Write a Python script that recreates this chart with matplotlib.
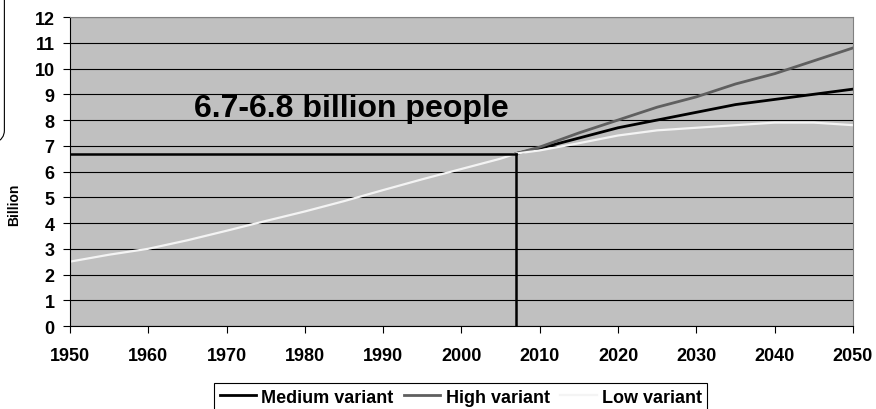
import matplotlib.pyplot as plt
from matplotlib.patches import FancyBboxPatch

plt.rcParams['font.family'] = ['Liberation Sans', 'DejaVu Sans']
plt.rcParams['font.weight'] = 'bold'

# world population, billions
hist_years = [1950, 1955, 1960, 1965, 1970, 1975, 1980, 1985, 1990, 1995, 2000, 2005, 2007]
hist_pop = [2.5, 2.77, 3.0, 3.33, 3.7, 4.08, 4.45, 4.85, 5.28, 5.7, 6.1, 6.5, 6.7]

proj_years = [2007, 2010, 2015, 2020, 2025, 2030, 2035, 2040, 2045, 2050]
medium = [6.7, 6.9, 7.3, 7.7, 8.0, 8.3, 8.6, 8.8, 9.0, 9.2]
high = [6.7, 6.95, 7.5, 8.0, 8.5, 8.9, 9.4, 9.8, 10.3, 10.8]
low = [6.7, 6.82, 7.1, 7.4, 7.6, 7.7, 7.8, 7.9, 7.9, 7.8]

mark_year = 2007
mark_pop = 6.7

fig = plt.figure(figsize=(8.76, 4.10), dpi=100)
ax = fig.add_axes([0.0799, 0.2024, 0.8938, 0.7536])
ax.set_facecolor('#c0c0c0')

ax.plot(proj_years, medium, color='black', lw=2.0, label='Medium variant')
ax.plot(proj_years, high, color='#5f5f5f', lw=2.0, label='High variant')
ax.plot(hist_years + proj_years[1:], hist_pop + low[1:], color='#f4f4f4', lw=1.6,
        label='Low variant')

# marker lines
ax.plot([1950, mark_year], [mark_pop, mark_pop], color='black', lw=1.8, zorder=3)
ax.plot([mark_year, mark_year], [0, mark_pop], color='black', lw=1.8, zorder=3)

ax.text(1965.9, 8.15, '6.7-6.8 billion people', fontsize=23, fontweight='bold',
        va='baseline', ha='left')

ax.set_xlim(1950, 2050)
ax.set_ylim(0, 12)
ax.set_xticks(range(1950, 2051, 10))
ax.set_yticks(range(0, 13))
ax.grid(axis='y', color='black', lw=0.8)
ax.set_axisbelow(True)
ax.tick_params(axis='both', direction='out', length=5, width=0.8, labelsize=13)
ax.tick_params(axis='x', pad=10)
ax.tick_params(axis='y', pad=6)
for s in ['top', 'right']:
    ax.spines[s].set_color('#808080')
ax.set_ylabel('Billion', fontsize=10, fontweight='bold')
ax.yaxis.set_label_coords(-0.062, 0.395)

leg = fig.legend(loc='upper center', bbox_to_anchor=(0.526, 0.063), ncol=3, fontsize=13,
                 frameon=True, fancybox=False, edgecolor='black', framealpha=1,
                 handlelength=2.0, columnspacing=0.6, handletextpad=0.3,
                 borderpad=0.3, borderaxespad=0)
leg.get_frame().set_linewidth(0.8)

# cropped text box at left edge
box = FancyBboxPatch((-0.2, 0.639), 0.205, 0.5, boxstyle='round,pad=0,rounding_size=0.04',
                     transform=fig.transFigure, fill=False, edgecolor='black', lw=0.8,
                     clip_on=False)
fig.patches.append(box)

fig.savefig('out.png', dpi=100)
